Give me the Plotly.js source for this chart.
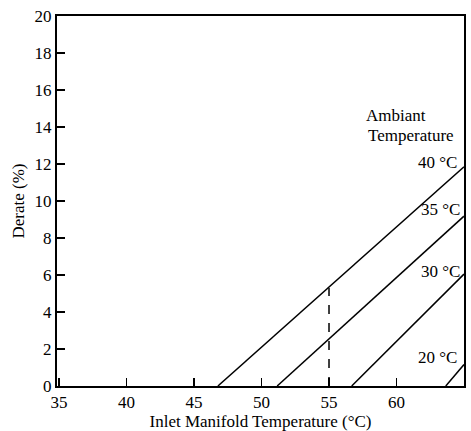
<!DOCTYPE html>
<html>
<head>
<meta charset="utf-8">
<script src="https://cdn.plot.ly/plotly-3.0.1.min.js"></script>
<style>html,body{margin:0;padding:0;background:#fff;}#chart{width:471px;height:431px;}</style>
</head>
<body>
<div id="chart"></div>
<script>
// Ambient temperature curves: derate (%) vs inlet manifold temperature (°C)
const seriesNames = ["40 °C", "35 °C", "30 °C", "20 °C"];
const x40 = [46.77, 65]; const y40 = [0, 11.85];
const x35 = [51.16, 65]; const y35 = [0, 9.18];
const x30 = [56.68, 65]; const y30 = [0, 6.05];
const x20 = [63.65, 65]; const y20 = [0, 1.16];
const dashX = [55, 55]; const dashY = [0, 5.3];
const xTicks = [35, 40, 45, 50, 55, 60, 65];
const yTicks = [0, 2, 4, 6, 8, 10, 12, 14, 16, 18, 20];
const legendTitle = ["Ambiant", "Temperature"];

const font = {family: "Liberation Serif, Times New Roman, serif", size: 17, color: "#000"};
const lineStyle = {color: "#000", width: 1.5};
const xs = [x40, x35, x30, x20];
const ys = [y40, y35, y30, y20];

const traces = xs.map((x, i) => ({
  x: x, y: ys[i], mode: "lines", line: lineStyle, name: seriesNames[i], hoverinfo: "skip"
}));
traces.push({x: dashX, y: dashY, mode: "lines", line: {color: "#000", width: 1.5, dash: "dash"}, hoverinfo: "skip"});

const labelPos = [[64.6, 12.08], [64.85, 9.54], [64.85, 6.2], [64.6, 1.54]];
const annotations = seriesNames.map((t, i) => ({
  x: labelPos[i][0], y: labelPos[i][1], xref: "x", yref: "y", text: t,
  showarrow: false, xanchor: "right", yanchor: "middle", font: font
}));
annotations.push({x: 57.6, y: 14.6, xref: "x", yref: "y", text: legendTitle[0], showarrow: false, xanchor: "left", yanchor: "middle", font: font});
annotations.push({x: 57.75, y: 13.55, xref: "x", yref: "y", text: legendTitle[1], showarrow: false, xanchor: "left", yanchor: "middle", font: font});

const layout = {
  width: 471, height: 431,
  margin: {l: 57, r: 7, t: 16, b: 45},
  paper_bgcolor: "#fff", plot_bgcolor: "#fff",
  showlegend: false,
  font: font,
  xaxis: {
    range: [34.85, 65], tickvals: xTicks, ticktext: xTicks.map(String),
    ticks: "inside", ticklen: 8, tickwidth: 1.5, tickcolor: "#000",
    showline: true, linecolor: "#000", linewidth: 2, mirror: true,
    showgrid: false, zeroline: false, tickfont: font,
    title: {text: "Inlet Manifold Temperature (°C)", font: font, standoff: 4}
  },
  yaxis: {
    range: [0, 20], tickvals: yTicks, ticktext: yTicks.map(String),
    ticks: "inside", ticklen: 8, tickwidth: 1.5, tickcolor: "#000",
    showline: true, linecolor: "#000", linewidth: 2, mirror: true,
    showgrid: false, zeroline: false, tickfont: font,
    title: {text: "Derate (%)", font: font, standoff: 6}
  },
  annotations: annotations
};
Plotly.newPlot("chart", traces, layout, {staticPlot: true, displayModeBar: false});
</script>
</body>
</html>
